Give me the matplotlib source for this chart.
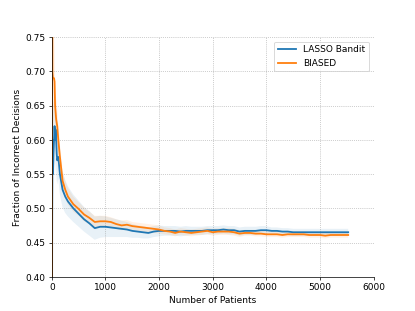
import matplotlib.pyplot as plt
import numpy as np

patients = np.array([1, 3, 6, 10, 20, 30, 40, 50, 60, 70, 80, 90, 100, 120, 150, 200, 250, 300,
                     400, 500, 600, 700, 800, 900, 1000, 1100, 1200, 1300, 1400, 1500, 1600,
                     1700, 1800, 1900, 2000, 2100, 2200, 2300, 2400, 2500, 2600, 2700, 2800,
                     2900, 3000, 3100, 3200, 3300, 3400, 3500, 3600, 3700, 3800, 3900, 4000,
                     4100, 4200, 4300, 4400, 4500, 4600, 4700, 4800, 4900, 5000, 5100, 5200,
                     5300, 5400, 5528])

lasso = np.array([0.0, 0.33, 0.50, 0.60, 0.55, 0.58, 0.60, 0.62, 0.60, 0.615, 0.60, 0.58, 0.57,
                  0.575, 0.55, 0.527, 0.517, 0.510, 0.500, 0.492, 0.484, 0.478, 0.471, 0.473,
                  0.473, 0.472, 0.471, 0.470, 0.469, 0.467, 0.466, 0.465, 0.464, 0.466, 0.467,
                  0.467, 0.467, 0.467, 0.466, 0.467, 0.467, 0.467, 0.467, 0.468, 0.468, 0.468,
                  0.469, 0.468, 0.468, 0.466, 0.467, 0.467, 0.467, 0.468, 0.468, 0.467, 0.467,
                  0.466, 0.466, 0.465, 0.465, 0.465, 0.465, 0.465, 0.465, 0.465, 0.465, 0.465,
                  0.465, 0.465])
lasso_err = np.array([0.0, 0.2, 0.15, 0.1, 0.08, 0.07, 0.06, 0.05, 0.05, 0.045, 0.04, 0.04,
                      0.035, 0.032, 0.030, 0.026, 0.024, 0.022, 0.020, 0.019, 0.018, 0.018,
                      0.017, 0.016, 0.015, 0.014, 0.013, 0.012, 0.011, 0.010, 0.009, 0.009,
                      0.008, 0.008, 0.008, 0.007, 0.007, 0.007, 0.007, 0.007, 0.006, 0.006,
                      0.006, 0.006, 0.006, 0.006, 0.006, 0.006, 0.006, 0.006, 0.006, 0.006,
                      0.006, 0.006, 0.006, 0.005, 0.005, 0.005, 0.005, 0.005, 0.005, 0.005,
                      0.005, 0.005, 0.005, 0.005, 0.005, 0.005, 0.005, 0.005])

biased = np.array([0.0, 0.67, 0.83, 0.70, 0.69, 0.69, 0.69, 0.685, 0.65, 0.64, 0.63, 0.625,
                   0.62, 0.60, 0.575, 0.540, 0.527, 0.517, 0.506, 0.499, 0.491, 0.486, 0.480,
                   0.481, 0.481, 0.480, 0.477, 0.475, 0.476, 0.474, 0.473, 0.472, 0.471, 0.470,
                   0.469, 0.467, 0.466, 0.464, 0.466, 0.465, 0.464, 0.465, 0.466, 0.467, 0.465,
                   0.466, 0.466, 0.466, 0.465, 0.463, 0.464, 0.464, 0.463, 0.463, 0.462, 0.462,
                   0.462, 0.461, 0.462, 0.462, 0.462, 0.462, 0.461, 0.461, 0.461, 0.460, 0.461,
                   0.461, 0.461, 0.461])
biased_err = np.array([0.0, 0.2, 0.15, 0.1, 0.08, 0.07, 0.06, 0.05, 0.04, 0.035, 0.03, 0.03,
                       0.025, 0.022, 0.018, 0.015, 0.013, 0.012, 0.011, 0.010, 0.010, 0.009,
                       0.009, 0.008, 0.008, 0.007, 0.007, 0.007, 0.007, 0.006, 0.006, 0.006,
                       0.006, 0.006, 0.006, 0.005, 0.005, 0.005, 0.005, 0.005, 0.005, 0.005,
                       0.005, 0.005, 0.005, 0.005, 0.005, 0.005, 0.005, 0.005, 0.004, 0.004,
                       0.004, 0.004, 0.004, 0.004, 0.004, 0.004, 0.004, 0.004, 0.004, 0.004,
                       0.004, 0.004, 0.004, 0.004, 0.004, 0.004, 0.004, 0.004])

fig, ax = plt.subplots(figsize=(6.4, 4.8), dpi=415 / 6.4)

ax.plot(patients, lasso, color="tab:blue", lw=2, label="LASSO Bandit")
ax.fill_between(patients, lasso - lasso_err, lasso + lasso_err, color="tab:blue", alpha=0.1, lw=0)
ax.plot(patients, biased, color="tab:orange", lw=2, label="BIASED")
ax.fill_between(patients, biased - biased_err, biased + biased_err, color="tab:orange", alpha=0.1, lw=0)

ax.set_xlim(0, 6000)
ax.set_ylim(0.40, 0.75)
ax.set_xlabel("Number of Patients")
ax.set_ylabel("Fraction of Incorrect Decisions")
ax.grid(True, linestyle=":", color="gray", alpha=0.7)
ax.spines["top"].set_visible(False)
ax.spines["right"].set_visible(False)
ax.legend(loc="upper right")

fig.savefig("out.png")
